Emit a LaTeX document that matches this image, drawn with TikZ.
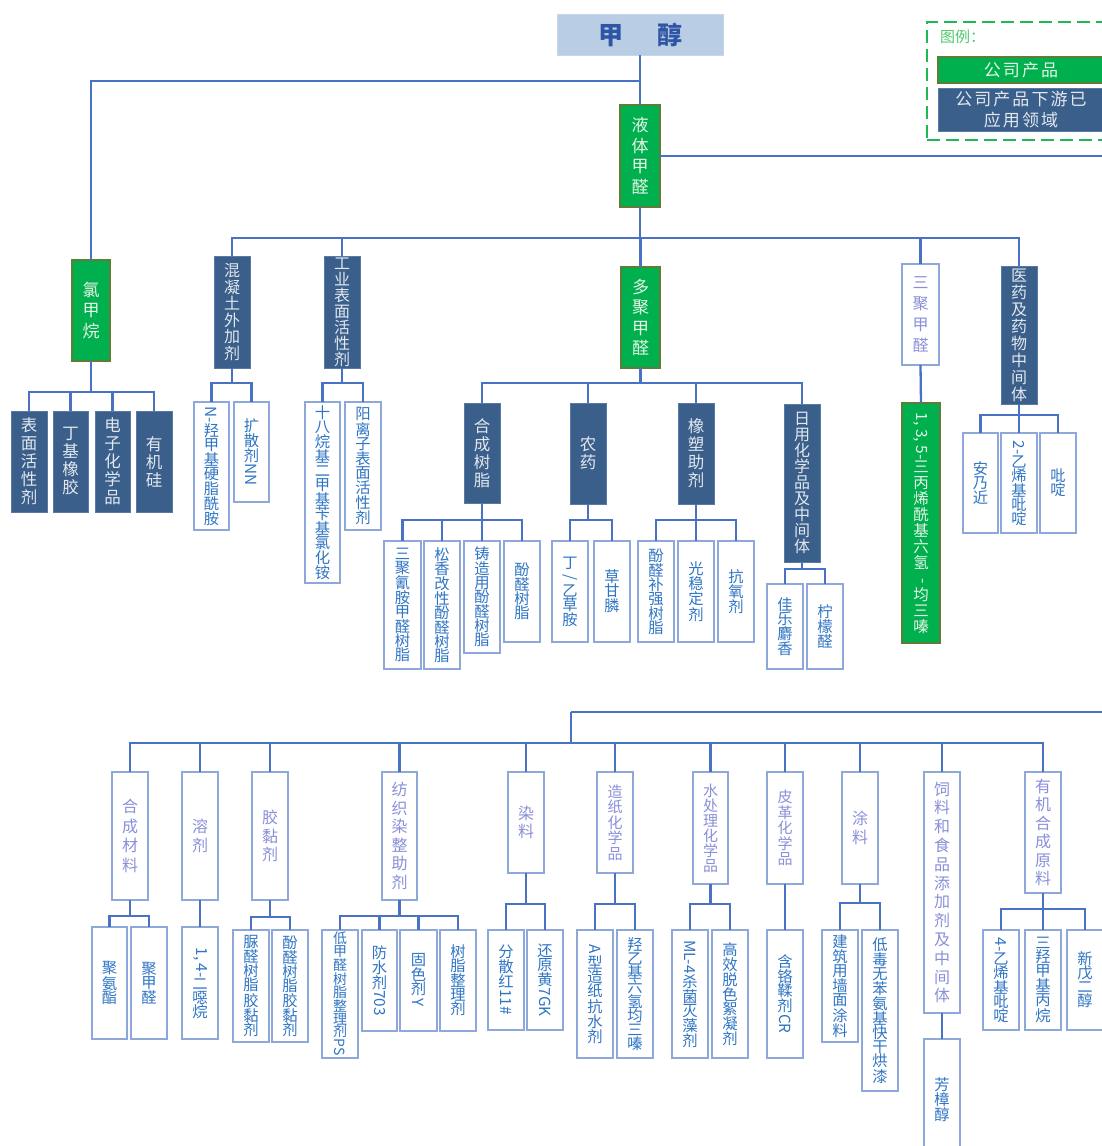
\documentclass[tikz,border=0pt]{standalone}
\usepackage{fontspec}
\setmainfont{Noto Sans CJK SC}
\usepackage{graphicx}
\definecolor{cLine}{HTML}{4A72C4}
\definecolor{cBlue}{HTML}{3A5F8A}
\definecolor{cBlueBd}{HTML}{587AA6}
\definecolor{cGreen}{HTML}{00B04F}
\definecolor{cGreenBd}{HTML}{5E7E38}
\definecolor{cWBd}{HTML}{8EA8DB}
\definecolor{cTxtW}{HTML}{E2E7EF}
\definecolor{cTxtG}{HTML}{E6F5E6}
\definecolor{cLeaf}{HTML}{2F75C4}
\definecolor{cLav}{HTML}{8A90D8}
\definecolor{cTitleF}{HTML}{B9CDE5}
\definecolor{cTitleT}{HTML}{2F56A4}
\definecolor{cLegG}{HTML}{1DB954}
\definecolor{cLegT}{HTML}{4EC96A}
\newcommand\myfs[2]{\fontsize{#1pt}{#2pt}\selectfont}
\newcommand\rl[1]{\rotatebox[origin=c]{-90}{#1}}
\newcommand\BX[8]{%
  \pgfmathsetmacro\bxw{#6-#4}%
  \pgfmathsetmacro\bxh{#7-#5}%
  \pgfmathsetmacro\bxx{(#4+#6)/2}%
  \pgfmathsetmacro\bxy{(#5+#7)/2}%
  \node[#2, minimum width=\bxw pt, minimum height=\bxh pt, inner sep=0pt, outer sep=0pt] (#1) at (\bxx,\bxy) {};%
  \node[#3] (#1t) at (#1.center) {#8};}
\newcommand\BUS[3]{\foreach \cc in {#3} {\draw[lnk] (#1.south) -- ++(0,#2) -| (\cc.north);}}
\tikzset{
  lnk/.style={draw=cLine, line width=2.3pt},
  bbox/.style={draw=cBlueBd, fill=cBlue, line width=0.8pt},
  gbox/.style={draw=cGreenBd, fill=cGreen, line width=2.2pt},
  wbox/.style={draw=cWBd, fill=white, line width=1.6pt},
  tbox/.style={fill=cTitleF, draw=cTitleF!80!white, line width=0.6pt},
  legbox/.style={draw=cLegG, line width=2pt, dash pattern=on 13pt off 6pt},
  tb/.style={text=cTxtW, align=center, inner sep=0pt, font=\myfs{16.5}{18}},
  tg/.style={text=cTxtG, align=center, inner sep=0pt, font=\myfs{17}{20.5}},
  tl/.style={text=cLeaf, align=center, inner sep=0pt, font=\myfs{15.3}{14}},
  tv/.style={text=cLav, align=center, inner sep=0pt, font=\myfs{16}{18.5}},
  none/.style={}
}
\begin{document}
\begin{tikzpicture}[x=1pt,y=-1pt]
\useasboundingbox (0,0) rectangle (1102,1146);
\fill[white] (0,0) rectangle (1102,1146);
\clip (0,0) rectangle (1102,1146);

% ---------- title & legend ----------
\BX{jc}{tbox}{text=cTitleT, inner sep=0pt, font=\myfs{25}{25}\bfseries}{557}{14}{723}{55}{甲\hspace{34pt}醇}
\BX{leg}{legbox}{none}{927}{22}{1130}{140}{}
\node[anchor=west, text=cLegT, inner sep=0pt, font=\myfs{15}{15}] (legt) at (940,37) {图例：};
\BX{lg1}{gbox}{tg, font={\myfs{17}{20}\addfontfeatures{LetterSpace=12}}}{938}{57}{1104}{83}{公司产品}
\BX{lg2}{bbox}{tb, font={\myfs{17}{21}\addfontfeatures{LetterSpace=12}}}{938}{88}{1104}{131}{公司产品下游已\\应用领域}

% ---------- level 1 ----------
\BX{ywjq}{gbox}{tg}{620}{105}{660}{207}{液\\体\\甲\\醛}
\BX{lj}{gbox}{tg}{72}{260}{110}{361}{氯\\甲\\烷}

% children of 氯甲烷
\BX{a1}{bbox}{tb}{11}{411}{47}{512}{表\\面\\活\\性\\剂}
\BX{a2}{bbox}{tb}{53}{411}{88}{512}{丁\\基\\橡\\胶}
\BX{a3}{bbox}{tb}{95}{411}{130}{512}{电\\子\\化\\学\\品}
\BX{a4}{bbox}{tb}{136}{411}{172}{512}{有\\机\\硅}

% children of 液体甲醛
\BX{b1}{bbox}{tb, font=\myfs{16}{16.5}}{214}{256}{250}{368}{混\\凝\\土\\外\\加\\剂}
\BX{b2}{bbox}{tb, font=\myfs{16}{16}}{324}{256}{360}{368}{工\\业\\表\\面\\活\\性\\剂}
\BX{b3}{gbox}{tg}{621}{267}{660}{368}{多\\聚\\甲\\醛}
\BX{b4}{wbox}{tv, font=\myfs{16}{21}}{902}{264}{939}{365}{三\\聚\\甲\\醛}
\BX{b5}{bbox}{tb, font=\myfs{16}{17}}{1001}{266}{1037}{404}{医\\药\\及\\药\\物\\中\\间\\体}

% children of 混凝土外加剂 / 工业表面活性剂
\BX{c1}{wbox}{tl}{194}{402}{229}{530}{\rl{N-}\\羟\\甲\\基\\硬\\脂\\酰\\胺}
\BX{c2}{wbox}{tl}{234}{402}{269}{502}{扩\\散\\剂\\\rl{NN}}
\BX{c3}{wbox}{tl}{305}{402}{340}{583}{十\\八\\烷\\基\\二\\甲\\基\\苄\\基\\氯\\化\\铵}
\BX{c4}{wbox}{tl}{345}{402}{381}{530}{阳\\离\\子\\表\\面\\活\\性\\剂}

% children of 多聚甲醛
\BX{d1}{bbox}{tb}{464}{403}{500}{503}{合\\成\\树\\脂}
\BX{d2}{bbox}{tb}{570}{403}{606}{504}{农\\药}
\BX{d3}{bbox}{tb}{678}{403}{714}{504}{橡\\塑\\助\\剂}
\BX{d4}{bbox}{tb, font=\myfs{16}{16}}{784}{404}{820}{562}{日\\用\\化\\学\\品\\及\\中\\间\\体}

\BX{e1}{wbox}{tl}{384}{541}{421}{669}{三\\聚\\氰\\胺\\甲\\醛\\树\\脂}
\BX{e2}{wbox}{tl}{424}{541}{460}{669}{松\\香\\改\\性\\酚\\醛\\树\\脂}
\BX{e3}{wbox}{tl}{464}{541}{500}{653}{铸\\造\\用\\酚\\醛\\树\\脂}
\BX{e4}{wbox}{tl}{504}{541}{540}{642}{酚\\醛\\树\\脂}
\BX{e5}{wbox}{tl}{552}{541}{588}{642}{丁\\\rl{/}\\乙\\草\\胺}
\BX{e6}{wbox}{tl}{594}{541}{630}{642}{草\\甘\\膦}
\BX{e7}{wbox}{tl}{638}{541}{674}{642}{酚\\醛\\补\\强\\树\\脂}
\BX{e8}{wbox}{tl}{678}{541}{714}{642}{光\\稳\\定\\剂}
\BX{e9}{wbox}{tl}{718}{541}{754}{642}{抗\\氧\\剂}
\BX{e10}{wbox}{tl}{767}{584}{803}{669}{佳\\乐\\麝\\香}
\BX{e11}{wbox}{tl}{807}{584}{843}{669}{柠\\檬\\醛}

% 三聚甲醛 child
\BX{f1}{gbox}{tg, font=\myfs{15.5}{16}}{902}{403}{940}{643}{\rl{1, 3, 5-}\\三\\丙\\烯\\酰\\基\\六\\氢\\\rl{-}\\均\\三\\嗪}

% 医药 children
\BX{g1}{wbox}{tl}{963}{433}{998}{533}{安\\乃\\近}
\BX{g2}{wbox}{tl}{1001}{433}{1037}{533}{\rl{2-}\\乙\\烯\\基\\吡\\啶}
\BX{g3}{wbox}{tl}{1040}{433}{1076}{533}{吡\\啶}

% ---------- bottom section ----------
\coordinate (rt) at (1102,156);
\coordinate (rb) at (1102,712);
\coordinate (jb) at (571,712);

\BX{h1}{wbox}{tv, font=\myfs{16}{19.5}}{112}{772}{148}{900}{合\\成\\材\\料}
\BX{h2}{wbox}{tv}{182}{772}{218}{900}{溶\\剂}
\BX{h3}{wbox}{tv}{252}{772}{288}{900}{胶\\黏\\剂}
\BX{h4}{wbox}{tv}{382}{772}{417}{900}{纺\\织\\染\\整\\助\\剂}
\BX{h5}{wbox}{tv}{508}{772}{544}{873}{染\\料}
\BX{h6}{wbox}{tv, font=\myfs{15}{15.5}}{597}{772}{633}{873}{造\\纸\\化\\学\\品}
\BX{h7}{wbox}{tv, font=\myfs{15}{15}}{693}{772}{728}{884}{水\\处\\理\\化\\学\\品}
\BX{h8}{wbox}{tv, font=\myfs{15}{15.6}}{767}{772}{803}{884}{皮\\革\\化\\学\\品}
\BX{h9}{wbox}{tv}{842}{772}{878}{884}{涂\\料}
\BX{h10}{wbox}{tv, font=\myfs{16}{18.8}}{924}{772}{960}{1013}{饲\\料\\和\\食\\品\\添\\加\\剂\\及\\中\\间\\体}
\BX{h11}{wbox}{tv}{1025}{772}{1061}{893}{有\\机\\合\\成\\原\\料}

\BX{i1}{wbox}{tl}{92}{927}{127}{1039}{聚\\氨\\酯}
\BX{i2}{wbox}{tl}{131}{927}{167}{1039}{聚\\甲\\醛}
\BX{i3}{wbox}{tl}{182}{927}{218}{1039}{\rl{1, 4-}\\二\\噁\\烷}
\BX{i4}{wbox}{tl}{233}{930}{269}{1042}{脲\\醛\\树\\脂\\胶\\黏\\剂}
\BX{i5}{wbox}{tl}{272}{930}{308}{1042}{酚\\醛\\树\\脂\\胶\\黏\\剂}
\BX{i6}{wbox}{tl, font=\myfs{14}{12.5}}{322}{930}{358}{1058}{低\\甲\\醛\\树\\脂\\整\\理\\剂\\\rl{PS}}
\BX{i7}{wbox}{tl}{362}{930}{397}{1031}{防\\水\\剂\\\rl{703}}
\BX{i8}{wbox}{tl}{400}{930}{437}{1031}{固\\色\\剂\\\rl{Y}}
\BX{i9}{wbox}{tl}{440}{930}{476}{1031}{树\\脂\\整\\理\\剂}
\BX{i10}{wbox}{tl}{488}{930}{524}{1030}{分\\散\\红\\\rl{11\#}}
\BX{i11}{wbox}{tl}{527}{930}{563}{1030}{还\\原\\黄\\\rl{7GK}}
\BX{i12}{wbox}{tl}{577}{930}{613}{1058}{\rl{A}\\型\\造\\纸\\抗\\水\\剂}
\BX{i13}{wbox}{tl}{617}{930}{653}{1058}{羟\\乙\\基\\六\\氢\\均\\三\\嗪}
\BX{i14}{wbox}{tl}{672}{930}{708}{1058}{\rl{ML-4}\\杀\\菌\\灭\\藻\\剂}
\BX{i15}{wbox}{tl}{712}{930}{748}{1058}{高\\效\\脱\\色\\絮\\凝\\剂}
\BX{i16}{wbox}{tl}{767}{930}{803}{1058}{含\\铬\\鞣\\剂\\\rl{CR}}
\BX{i17}{wbox}{tl}{822}{930}{858}{1042}{建\\筑\\用\\墙\\面\\涂\\料}
\BX{i18}{wbox}{tl}{862}{930}{898}{1091}{低\\毒\\无\\苯\\氨\\基\\快\\干\\烘\\漆}
\BX{i19}{wbox}{tl}{924}{1039}{960}{1160}{芳\\樟\\醇}
\BX{i20}{wbox}{tl}{983}{930}{1019}{1030}{\rl{4-}\\乙\\烯\\基\\吡\\啶}
\BX{i21}{wbox}{tl}{1025}{930}{1061}{1030}{三\\羟\\甲\\基\\丙\\烷}
\BX{i22}{wbox}{tl}{1067}{930}{1103}{1030}{新\\戊\\二\\醇}

% ---------- connectors ----------
\draw[lnk] (jc.south) -- (ywjq.north);
\draw[lnk] (jc.south) -- ++(0,26) -| (lj.north);
\draw[lnk] (ywjq.east) -- (rt);
\BUS{lj}{31}{a1,a2,a3,a4}
\BUS{ywjq}{31}{b1,b2,b3,b4,b5}
\BUS{b1}{15}{c1,c2}
\BUS{b2}{15}{c3,c4}
\BUS{b3}{15}{d1,d2,d3,d4}
\BUS{d1}{17}{e1,e2,e3,e4}
\BUS{d2}{16}{e5,e6}
\BUS{d3}{16}{e7,e8,e9}
\BUS{d4}{7}{e10,e11}
\draw[lnk] (b4.south) -- (f1.north);
\BUS{b5}{11}{g1,g2,g3}

\draw[lnk] (rb) -- (jb);
\foreach \cc in {h1,h2,h3,h4,h5,h6,h7,h8,h9,h10,h11} {\draw[lnk] (jb) -- ++(0,31) -| (\cc.north);}
\BUS{h1}{16}{i1,i2}
\draw[lnk] (h2.south) -- (i3.north);
\BUS{h3}{17}{i4,i5}
\BUS{h4}{16}{i6,i7,i8,i9}
\BUS{h5}{31}{i10,i11}
\BUS{h6}{31}{i12,i13}
\BUS{h7}{20}{i14,i15}
\draw[lnk] (h8.south) -- (i16.north);
\BUS{h9}{19}{i17,i18}
\draw[lnk] (h10.south) -- (i19.north);
\BUS{h11}{16}{i20,i21,i22}
\end{tikzpicture}
\end{document}
